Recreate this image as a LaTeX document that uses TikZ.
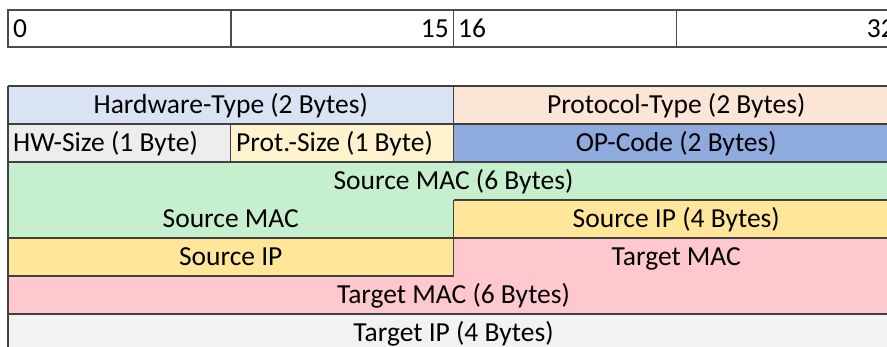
\documentclass[tikz,border=0pt]{standalone}
\usepackage{fontspec}
\setmainfont{Carlito}
\definecolor{hwtype}{HTML}{DAE3F3}
\definecolor{prottype}{HTML}{FBE5D6}
\definecolor{hwsize}{HTML}{EDEDED}
\definecolor{protsize}{HTML}{FFF2CC}
\definecolor{opcode}{HTML}{8FAADC}
\definecolor{srcmac}{HTML}{C6EFCE}
\definecolor{srcip}{HTML}{FFE699}
\definecolor{tgtmac}{HTML}{FFC7CE}
\definecolor{tgtip}{HTML}{F2F2F2}
\begin{document}
\begin{tikzpicture}[x=1pt,y=-1pt,
  lbl/.style={font=\fontsize{27.5}{32}\selectfont, inner sep=0pt, anchor=base},
  lblL/.style={lbl, anchor=base west},
  lblR/.style={lbl, anchor=base east},
  ruler/.style={draw=black!70, line width=1.5pt},
  gridline/.style={draw=black!75, line width=1.4pt}]
\useasboundingbox (0,0) rectangle (887,347);
\clip (0,0) rectangle (887,347);
% column edges: 8, 230.75, 453.5, 676.25, 899
% bit ruler
\path[ruler, fill=white] (8,10) rectangle (899,47);
\draw[ruler] (230.75,10) -- (230.75,47)
             (453.5,10) -- (453.5,47)
             (676.25,10) -- (676.25,47);
\node[lblL] (b0)  at (13,38)    {0};
\node[lblR] (b15) at (449,38)   {15};
\node[lblL] (b16) at (458,38)   {16};
\node[lblR] (b32) at (895,38)   {32};
% ARP header fields: rows at 86,124,162,200,238,276,314,352
\fill[hwtype]   (8,86) rectangle (453.5,124);
\fill[prottype] (453.5,86) rectangle (899,124);
\fill[hwsize]   (8,124) rectangle (230.75,162);
\fill[protsize] (230.75,124) rectangle (453.5,162);
\fill[opcode]   (453.5,124) rectangle (899,162);
\fill[srcmac]   (8,162) -- (899,162) -- (899,200) -- (453.5,200) -- (453.5,238) -- (8,238) -- cycle;
\fill[srcip]    (453.5,200) rectangle (899,238);
\fill[srcip]    (8,238) rectangle (453.5,276);
\fill[tgtmac]   (453.5,238) -- (899,238) -- (899,314) -- (8,314) -- (8,276) -- (453.5,276) -- cycle;
\fill[tgtip]    (8,314) rectangle (899,352);
% cell borders
\draw[gridline] (8,86) -- (899,86)
                (8,124) -- (899,124)
                (8,162) -- (899,162)
                (453.5,200) -- (899,200)
                (8,238) -- (899,238)
                (8,276) -- (453.5,276)
                (8,314) -- (899,314)
                (8,86) -- (8,352)
                (453.5,86) -- (453.5,162)
                (230.75,124) -- (230.75,162)
                (453.5,200) -- (453.5,276);
% field labels
\node[lbl]  (hwt)  at (230.75,114) {Hardware-Type (2 Bytes)};
\node[lbl]  (prt)  at (676.25,114) {Protocol-Type (2 Bytes)};
\node[lblL] (hws)  at (13,152)     {HW-Size (1 Byte)};
\node[lblL] (prs)  at (236,152)    {Prot.-Size (1 Byte)};
\node[lbl]  (opc)  at (676.25,152) {OP-Code (2 Bytes)};
\node[lbl]  (smac) at (453.5,190)  {Source MAC (6 Bytes)};
\node[lbl]  (smac2) at (230.75,228) {Source MAC};
\node[lbl]  (sip)  at (676.25,228) {Source IP (4 Bytes)};
\node[lbl]  (sip2) at (230.75,266) {Source IP};
\node[lbl]  (tmac) at (676.25,266) {Target MAC};
\node[lbl]  (tmac2) at (453.5,304) {Target MAC (6 Bytes)};
\node[lbl]  (tip)  at (453.5,342)  {Target IP (4 Bytes)};
\end{tikzpicture}
\end{document}
